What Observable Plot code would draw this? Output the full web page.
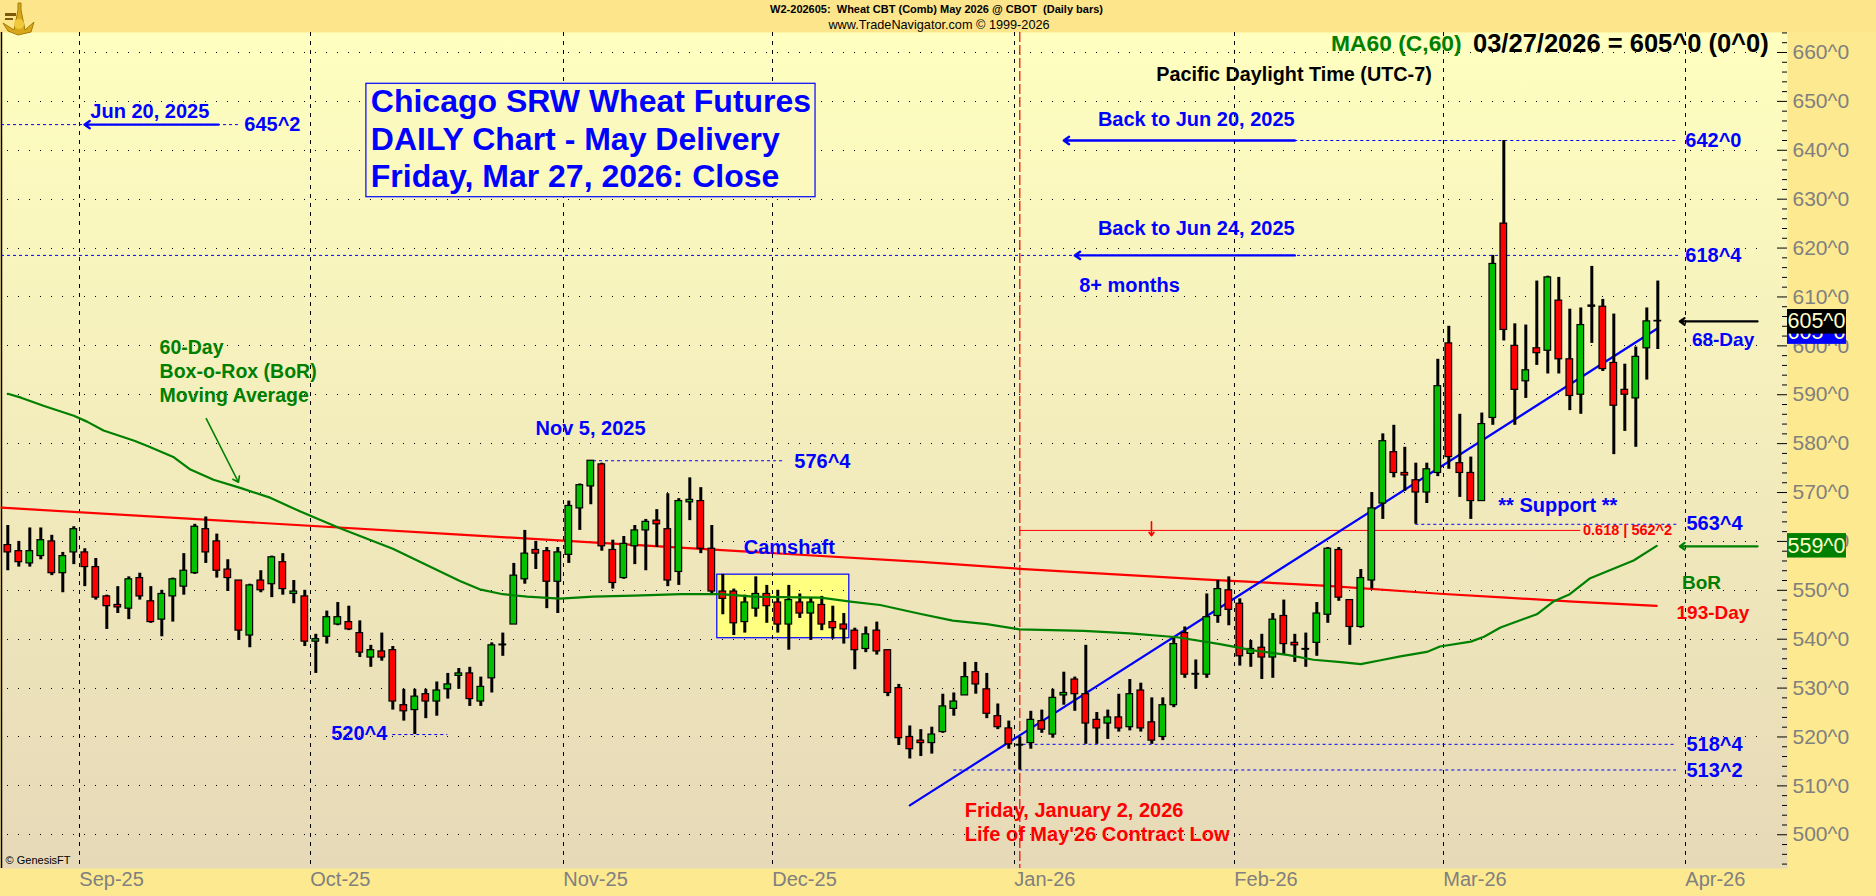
<!DOCTYPE html>
<html><head><meta charset="utf-8">
<style>
html,body{margin:0;padding:0;background:#fde98f;overflow:hidden}
#wrap{position:relative;width:1876px;height:896px}
#wrap svg.logo{position:absolute;left:0;top:0}
</style>
<script src="https://cdn.jsdelivr.net/npm/d3@7"></script>
<script src="https://cdn.jsdelivr.net/npm/@observablehq/plot@0.6"></script>
</head><body><div id="wrap"></div>
<script>
// ---- Daily OHLC, bar 0 = Aug 21 2025 ... bar 150 = Mar 27 2026
const opens=[559.25,558,555.5,557,560,553.5,557.75,557.75,554.75,548.75,547,546.25,552.5,547.75,544,548.75,550.75,553.5,562.5,560,554.25,552,540.75,552,551.25,555.75,549.25,548.75,539.5,540.5,543,543.5,541.25,536.25,537.5,537.75,526.5,525.5,528.75,527.25,529.75,532.5,533,527.25,532,538.75,543,552.25,558.25,558,551.75,557.25,566.75,571.25,575.75,558.25,552.5,559,562.25,564.25,562.5,553.75,568,568.25,558.5,549.75,549.75,543.5,546.25,549.25,547.5,543,547.5,545.25,547,543.5,543,541.75,538,541.75,537.75,530,520,519.25,518.75,521,525.75,528.5,533.25,529.75,524.25,521.75,518.25,518.75,523.25,520.5,528.5,531.75,528.75,523.5,522.75,524,522,529.5,523,520,526.5,541.25,532.75,532.75,544.75,550,547.25,537,538.25,536.25,544.75,539.25,537.85,539.25,545,558.25,548,542.5,552,567.75,578.25,574,572.5,570,574,600.5,576,574,568.25,585.25,625,600,592.75,599.5,599,609.25,597.25,590,608.25,608,596.5,591,589.25,599.5,605];
const highs=[563.25,560,562.75,562.75,561.25,557.75,563,558.5,556.5,549,550.75,552.75,553.5,550.75,550,552.5,557.5,563.5,565,561.5,556.25,552,551.25,554,557,557.5,552,550,541,545.75,547.5,546.75,543.75,538.75,541.25,538.5,529.75,529.75,529.75,531.25,533,534,534.25,532.25,539.25,541.25,555.5,562.25,560,558.75,558.75,568.25,571.75,576.5,576,560.25,561,563.25,564.5,566.5,569.75,568.75,573,571,563.25,553.25,550.25,549,552.75,551,550,551,549.25,548.5,548.75,546.75,545.25,542.25,542.5,543.5,537.75,530.75,522.25,521.5,522,528.75,529,535.25,535.25,533,526.75,523.25,520,525.25,525.5,529.75,533.25,532.25,538.75,525,525.5,528.75,531.75,531,528,528,540.25,542.5,535.75,549.25,552,552.75,548.25,539.75,541,545.25,548,541,541.25,547.5,558.75,558.75,548,554.25,570,582,583.75,579.25,576,576,597.25,604,586,577.25,586.25,618.5,642,604.5,604.25,613.25,614.25,614,607.5,607.75,616.25,609.5,606.5,596.25,599.75,607.75,613.25];
const lows=[554,554.75,554.75,556.25,553,549.5,555.25,550.75,548,542,545.25,544,548,543.25,540.5,543.5,549,553.25,555.5,552.5,549.75,539.75,538.25,549.5,548.5,549,547.25,538.5,533,539,542.75,541.75,536.25,534.25,535.5,525.5,523.25,520.5,523.75,524.25,527.75,529.75,526.25,526.25,529,536.5,543,551.25,554.25,546.25,545.25,555.5,562.25,567.5,558,550.25,552.25,555.25,554,558.75,550.75,551,564.25,557.5,549,545,540.75,541.25,544.5,543.25,541.25,537.75,544.25,539.75,541.75,540,539,533.75,537.25,536.75,528.25,518.25,515.5,516,516.5,520.75,524.25,528.5,528.75,523.75,521.5,517.5,513.25,517.5,520.75,519.75,526.5,525.25,518.5,518.5,519.5,521,521.25,521,518.5,519.25,526,532,529.75,532,543.25,542.75,534.5,534.25,531.75,532,536.75,535.25,534.25,536.5,543.25,547.75,538.75,542.25,550.25,564.5,573,570.25,563.5,567.75,573.25,574.75,569,564.5,568.25,583.75,601,583.75,589.25,596,594.25,594.25,586.75,586,600.5,594.75,577.75,582.5,579.25,593,599.25];
const closes=[557.75,555.75,558,560.25,553.5,557,562.5,554.75,548.5,546.75,546.5,552.25,548.75,543.5,549.25,552.25,554,563,557.75,554,552.5,541.75,551,550,556.75,550.25,549.75,539.5,540,544.5,544.5,542,537.25,537.75,536.25,527.25,525.25,528.25,527.25,529.5,530.75,533,527.75,530.25,538.75,538.9,553,557.5,557.5,551.75,557.75,567.25,571.5,576.5,559,551.5,559.5,562.25,564,563.5,552,568.25,568.5,558.5,549.75,548.25,543.25,547.5,549.25,546.75,543,548,545.25,547.5,543,542.25,542,537.75,541,537.5,529,519.75,517.5,518.75,520.5,526.25,527.25,532.25,530.75,524.75,522,518.5,518.4,523.5,521.5,528,529,528.75,522.75,521.75,524,521.75,528.75,521.75,519.25,526.5,539,532.75,532.9,544.5,550.25,546,536.5,538,536.25,544,539,538.75,538,545.25,558.5,548.5,542.5,552.5,566.75,580.5,574,573.5,570,574.75,591.75,577.25,574,568.25,584,616.75,603.25,591,595,598.5,614,597.25,589.75,604.25,608,595.25,587.75,590,597.75,605,605.1];

// ---- Indicator lines: [bar, price] knots
const ma193=[[-0.57,566.9],[41.1,561.4],[83,555.8],[92,554.4],[109,552.2],[120,550.9],[130.2,549.3],[136.2,548.5],[142.3,547.7],[149.9,546.8]];
const ma60=[[0,590.2],[1.2,589.4],[3.3,587.7],[6,585.7],[7.2,584.5],[8.7,582.7],[11.5,580.6],[12.7,579.5],[15.1,577.2],[16.6,574.7],[18.7,572.6],[21.2,570.9],[23.9,568.9],[26.6,566.1],[28.1,564.7],[30.2,562.7],[35,558.5],[41.1,551.9],[42.9,550.2],[45,549.2],[47.2,548.7],[50.2,548.3],[53.2,548.7],[56.9,548.9],[61.2,549.2],[64.8,549.2],[67.8,548.7],[73.9,548.5],[76.6,547.7],[79.3,547],[82.9,545.2],[85.9,543.8],[89,543.1],[92,542],[97.8,541.7],[102,541.2],[106.3,540.4],[110.2,539],[113.2,537.7],[116.3,536.8],[118.7,535.8],[121.2,535.3],[123,534.9],[124.8,535.7],[126.6,536.5],[129,537.4],[130.2,538.5],[133,539.5],[134.2,540.5],[135.7,542.4],[139,545.1],[140.5,547.7],[142,549.2],[143.8,552.4],[147.8,556.1],[149.9,559.1]];
const trend=[[82,506],[150,603.6]];

// ---- Axis content
const monthBars=[6.5,27.5,50.5,69.5,91.5,111.5,130.5,152.5];
const monthLabels=["Sep-25","Oct-25","Nov-25","Dec-25","Jan-26","Feb-26","Mar-26","Apr-26"];
const priceLabels=[500,510,520,530,540,550,560,570,580,590,600,610,620,630,640,650,660];
const priceMinor=[494,496,498,502,504,506,508,512,514,516,518,522,524,526,528,532,534,536,538,542,544,546,548,552,554,556,558,562,564,566,568,572,574,576,578,582,584,586,588,592,594,596,598,602,604,606,608,612,614,616,618,622,624,626,628,632,634,636,638,642,644,646,648,652,654,656,658,662,664];

// ---- Annotations: [text, bar, price, font size]
const blueNotes=[["Jun 20, 2025",7.5,647.9,20],["645^2",21.5,645.27,20],["Back to Jun 20, 2025",99.1,646.3,20],["Back to Jun 24, 2025",99.1,624.06,20],["8+ months",97.4,612.3,20],["Nov 5, 2025",47.97,583.1,20],["576^4",71.5,576.4,20],["Camshaft",66.9,558.8,20],["520^4",29.4,520.6,20],["** Support **",135.5,567.3,20],["642^0",152.5,642,20],["618^4",152.5,618.5,20],["563^4",152.6,563.6,20],["518^4",152.6,518.5,20],["513^2",152.6,513.1,20],["68-Day",153.1,601.3,19]];
const titleLines=[["Chicago SRW Wheat Futures",33,649.85,32],["DAILY Chart - May Delivery",33,642.2,32],["Friday, Mar 27, 2026: Close",33,634.6,32]];
const greenNotes=[["60-Day",13.8,599.6,19.5],["Box-o-Rox (BoR)",13.8,594.6,19.5],["Moving Average",13.8,589.8,19.5],["BoR",152.2,551.5,19],["MA60 (C,60)",120.3,661.8,22.8]];
const redNotes=[["Friday, January 2, 2026",87,504.9,20],["Life of May'26 Contract Low",87,500,20],["0.618 | 562^2",143.2,562.2,14.5],["193-Day",151.7,545.3,19]];
const blackNotes=[["Pacific Daylight Time (UTC-7)",104.4,655.4,19.8],["03/27/2026 = 605^0 (0^0)",133.2,661.8,25.5],["W2-202605:\u00a0\u00a0Wheat CBT (Comb) May 2026 @ CBOT\u00a0\u00a0(Daily bars)",69.3,668.7,11]];

// ---- Levels: [price, from bar, to bar]
const blueLevels=[[645.25,-0.57,20.97],[642,117,151.9],[618.5,-0.57,151.9],[576.5,53.25,70.7],[520.5,35,40],[563.5,128,151.8],[518.5,92.3,151.7],[513.25,86,151.7]];
const fibLevel=[[562.25,92,143]];
const lifeLowBar=[92];

// ---- Arrows: [from bar, from price, to bar, to price]
const blueArrows=[[19.15,645.25,6.97,645.25],[117,642,96,642],[117,618.5,97,618.5]];
const blackArrows=[[159.07,605,152,605]];
const greenArrows=[[159.07,559,152,559]];
const noteArrow=[[18.04,585.1,20.97,572.1]];
const redArrow=[[103.97,564,103.97,561.15]];

const camshaftBox=[{x1:64.5,x2:76.5,y1:540.2,y2:553.2}];
const titleBox=[{x1:32.6,x2:73.43,y1:630.4,y2:653.6}];
const xMax=161.79, xLabelEnd=167.15, yMin=493.1, yMax=664.09;
const tagBlue=[{x1:xMax,x2:xLabelEnd,y1:600.3,y2:605.2,t:"605^0",ty:602.75}];
const tagBlack=[{x1:xMax,x2:xLabelEnd,y1:602.4,y2:607.43,t:"605^0",ty:605}];
const tagGreen=[{x1:xMax,x2:xLabelEnd,y1:556.6,y2:561.6,t:"559^0",ty:559.1}];

const bars=opens.map((o,i)=>({i,open:o,high:highs[i],low:lows[i],close:closes[i]}));
const up=bars.filter(d=>d.close>=d.open), down=bars.filter(d=>d.close<d.open);
const note=(rows,fill,extra={})=>Plot.text(rows,{x:d=>d[1],y:d=>d[2],text:d=>d[0],fontSize:d=>d[3],textAnchor:"start",fontWeight:"bold",fill,...extra});
const arrows=(rows,stroke,sw,hl)=>Plot.arrow(rows,{x1:d=>d[0],y1:d=>d[1],x2:d=>d[2],y2:d=>d[3],stroke,strokeWidth:sw,headLength:hl,headAngle:70,bend:0});
const body=(rows,fill)=>Plot.rect(rows,{x1:d=>d.i-0.3,x2:d=>d.i+0.3,y1:"open",y2:"close",fill,stroke:"#000",strokeWidth:1.2});
const tag=(rows,fill)=>[
  Plot.rect(rows,{x1:"x1",x2:"x2",y1:"y1",y2:"y2",fill}),
  Plot.text(rows,{x:"x1",y:"ty",text:"t",textAnchor:"start",fontSize:21.5,fill:"#ffffc8"})
];

const defs=()=>{
  const s=d3.create("svg:defs");
  const g=s.append("linearGradient").attr("id","bgGrad").attr("x1",0).attr("x2",0).attr("y1",0).attr("y2",1);
  g.append("stop").attr("offset","0%").attr("stop-color","#ffffc0");
  g.append("stop").attr("offset","100%").attr("stop-color","#e6d9b8");
  return s.node();
};

const chart=Plot.plot({
  width:1876,height:896,marginLeft:1,marginRight:89,marginTop:32,marginBottom:28,
  style:{background:"linear-gradient(#fde58b 0 32px,#fde98f 32px)",fontFamily:"'Liberation Sans',Arial,sans-serif",display:"block",maxWidth:"none"},
  x:{domain:[-0.573,xMax],axis:null},
  y:{domain:[yMin,yMax],axis:null},
  marks:[
    defs,
    Plot.frame({fill:"url(#bgGrad)"}),
    Plot.rect(camshaftBox,{x1:"x1",x2:"x2",y1:"y1",y2:"y2",fill:"#ffff80",stroke:"#0000ff",strokeWidth:1.2}),
    Plot.ruleX(monthBars,{stroke:"#000",strokeWidth:1,strokeDasharray:"4,5",shapeRendering:"crispEdges"}),
    Plot.ruleY(priceLabels,{x1:-0.07,x2:159.9,stroke:"#000",strokeWidth:1,strokeDasharray:"1.5,9.5",shapeRendering:"crispEdges"}),
    Plot.ruleY(priceLabels,{insetLeft:1776,stroke:"#000",strokeWidth:1}),
    Plot.ruleY(priceMinor,{insetLeft:1781,stroke:"#000",strokeWidth:1}),
    Plot.ruleX([-0.573],{stroke:"#000",strokeWidth:1.5}),
    Plot.rect(titleBox,{x1:"x1",x2:"x2",y1:"y1",y2:"y2",fill:"#fcf9bf",stroke:"#0000ff",strokeWidth:1.2}),
    Plot.ruleX(lifeLowBar,{stroke:"#f00000",strokeWidth:1.2,strokeDasharray:"10,3"}),
    Plot.ruleY(blueLevels,{y:d=>d[0],x1:d=>d[1],x2:d=>d[2],stroke:"#0000ff",strokeWidth:1,strokeDasharray:"3,3"}),
    Plot.ruleY(fibLevel,{y:d=>d[0],x1:d=>d[1],x2:d=>d[2],stroke:"#ff0000",strokeWidth:1}),
    Plot.line(ma193,{x:d=>d[0],y:d=>d[1],stroke:"#ff0000",strokeWidth:2.2}),
    Plot.line(trend,{x:d=>d[0],y:d=>d[1],stroke:"#0000ff",strokeWidth:2.2}),
    Plot.ruleX(bars,{x:"i",y1:"low",y2:"high",stroke:"#000",strokeWidth:3}),
    body(up,"#00c000"),
    body(down,"#ff0000"),
    Plot.line(ma60,{x:d=>d[0],y:d=>d[1],stroke:"#008000",strokeWidth:2.2}),
    arrows(blueArrows,"#0000ff",2.4,4),
    arrows(blackArrows,"#000",2.2,4),
    arrows(greenArrows,"#008000",2.2,4),
    arrows(noteArrow,"#008000",1.6,6),
    arrows(redArrow,"#ff0000",1.6,4),
    note(titleLines,"#0000ff"),
    note(blueNotes,"#0000ff"),
    note(greenNotes,"#007f00"),
    note(redNotes,"#ff0000"),
    note(blackNotes,"#000"),
    Plot.text(["www.TradeNavigator.com \u00a9 1999-2026"],{x:74.6,y:665.6,text:d=>d,textAnchor:"start",fontSize:12.7,fill:"#000"}),
    Plot.text(["\u00a9 GenesisFT"],{x:-0.2,y:494.8,text:d=>d,textAnchor:"start",fontSize:11,fill:"#000"}),
    Plot.axisY({anchor:"right",ticks:priceLabels,tickSize:0,tickPadding:5,tickFormat:d=>d+"^0",fontSize:21,fill:"#808080",label:null}),
    Plot.axisX({ticks:monthBars,tickSize:0,tickPadding:3,tickFormat:d=>monthLabels[monthBars.indexOf(d)],textAnchor:"start",fontSize:20,fill:"#808080",label:null}),
    ...tag(tagBlue,"#0000ff"),
    ...tag(tagBlack,"#000000"),
    ...tag(tagGreen,"#008000"),
  ]
});
const wrap=document.getElementById("wrap");
wrap.appendChild(chart);
wrap.insertAdjacentHTML("beforeend",`<svg class="logo" width="40" height="40" viewBox="0 0 40 40">
<path d="M18 3 L21 3 L21 10 L25 30 L34 22 L31 32 L18 35 L8 31 L3 23 L14 30 L18 10 Z" fill="#d9a81a" stroke="#a57b06" stroke-width="1"/>
<rect x="5" y="13" width="11" height="3" fill="#7a5a08"/><rect x="5" y="18" width="8" height="2" fill="#7a5a08"/>
<circle cx="19" cy="24" r="5" fill="#f0c93a"/></svg>`);
</script></body></html>
